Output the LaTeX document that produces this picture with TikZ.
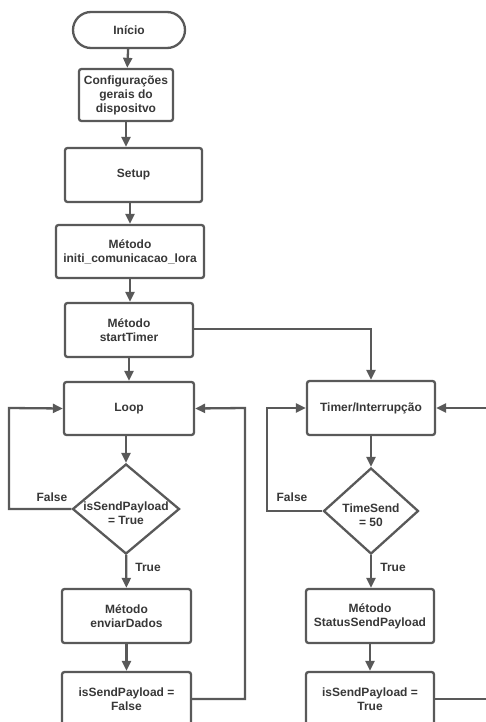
\documentclass[tikz,border=0pt]{standalone}
\usepackage{fontspec}
\setmainfont{Liberation Sans}
\usetikzlibrary{shapes.geometric,arrows.meta}
\definecolor{lc}{HTML}{595959}
\definecolor{tc}{HTML}{383838}
\tikzset{
  box/.style={draw=lc,line width=2.3pt,rounded corners=2.5pt,fill=white,
    font=\bfseries\fontsize{12}{14}\selectfont,text=tc,align=center,inner sep=0pt},
  term/.style={box,rounded corners=18pt},
  dec/.style={diamond,draw=lc,line width=2.3pt,fill=white,inner sep=0pt,
    font=\bfseries\fontsize{12}{14}\selectfont,text=tc},
  lbl/.style={font=\bfseries\fontsize{12}{14}\selectfont,text=tc,inner sep=0pt},
  conn/.style={draw=lc,line width=2.3pt,-{Triangle[length=10pt,width=9pt]}},
  plain/.style={draw=lc,line width=2.3pt}
}
\newcommand{\dtext}[2]{\makebox[0pt]{\smash{\begin{tabular}{@{}c@{}}#1\\#2\end{tabular}}}}
\begin{document}
\begin{tikzpicture}[x=1pt,y=-1pt]
\useasboundingbox (0,0) rectangle (486,722);
\node[term,minimum width=112pt,minimum height=36pt] (inicio) at (129,30) {Início};
\node[box,minimum width=94pt,minimum height=52pt] (config) at (126,95) {Configurações\\gerais do\\dispositvo};
\node[box,minimum width=137pt,minimum height=54pt] (setup) at (133.5,175) {Setup};
\node[box,minimum width=148pt,minimum height=53pt] (initi) at (130,251.5) {Método\\initi\_comunicacao\_lora};
\node[box,minimum width=128pt,minimum height=54pt] (start) at (129,330) {Método\\startTimer};
\node[box,minimum width=130pt,minimum height=53pt] (loop) at (129,408.5) {Loop};
\node[dec,minimum width=107pt,minimum height=90pt] (dia1) at (126,509) {\raisebox{-18pt}{\dtext{isSendPayload}{= True}}};
\node[box,minimum width=129pt,minimum height=54pt] (envia) at (126.5,616) {Método\\enviarDados};
\node[box,minimum width=129pt,minimum height=54pt] (isf) at (126.5,699) {isSendPayload =\\False};
\node[lbl] (f1) at (52,497) {False};
\node[lbl] (t1) at (148,567) {True};

\node[box,minimum width=128pt,minimum height=54pt] (timer) at (371,408) {Timer/Interrupção};
\node[dec,minimum width=95pt,minimum height=86pt] (dia2) at (371,511) {\raisebox{-17pt}{\dtext{TimeSend}{= 50}}};
\node[box,minimum width=128pt,minimum height=54pt] (status) at (370,616) {Método\\StatusSendPayload};
\node[box,minimum width=128pt,minimum height=54pt] (ist) at (370,699) {isSendPayload =\\True};
\node[lbl] (f2) at (292,497) {False};
\node[lbl] (t2) at (393,567) {True};

\coordinate (c1) at (9,509);
\coordinate (c2) at (9,408);
\coordinate (c3) at (245,699);
\coordinate (c4) at (245,408);
\coordinate (c5) at (371,329);
\coordinate (c6) at (267,511);
\coordinate (c7) at (267,408);
\coordinate (c8) at (492,699);
\coordinate (c9) at (492,408);

\draw[conn] (inicio) -- (config);
\draw[conn] (config) -- (config|-setup.north);
\draw[conn] (setup.south-|initi) -- (initi);
\draw[conn] (initi) -- (start.north-|initi);
\draw[conn] (start) -- (loop);
\draw[conn] (loop.south-|dia1) -- (dia1);
\draw[conn] (dia1) -- (envia);
\draw[conn] (envia) -- (isf);
\draw[conn] (dia1.west) -- (c1) -- (c2) -- (loop.west);
\draw[conn] (isf.east|-c3) -- (c3) -- (c4) -- (loop.east);

\draw[conn] (start.east|-c5) -- (c5) -- (timer.north);
\draw[conn] (timer) -- (dia2);
\draw[conn] (dia2.south) -- (status.north-|dia2.south);
\draw[conn] (status) -- (ist);
\draw[conn] (dia2.west) -- (c6) -- (c7) -- (timer.west);
\draw[conn] (ist.east|-c8) -- (c8) -- (c9) -- (timer.east);
\end{tikzpicture}
\end{document}
